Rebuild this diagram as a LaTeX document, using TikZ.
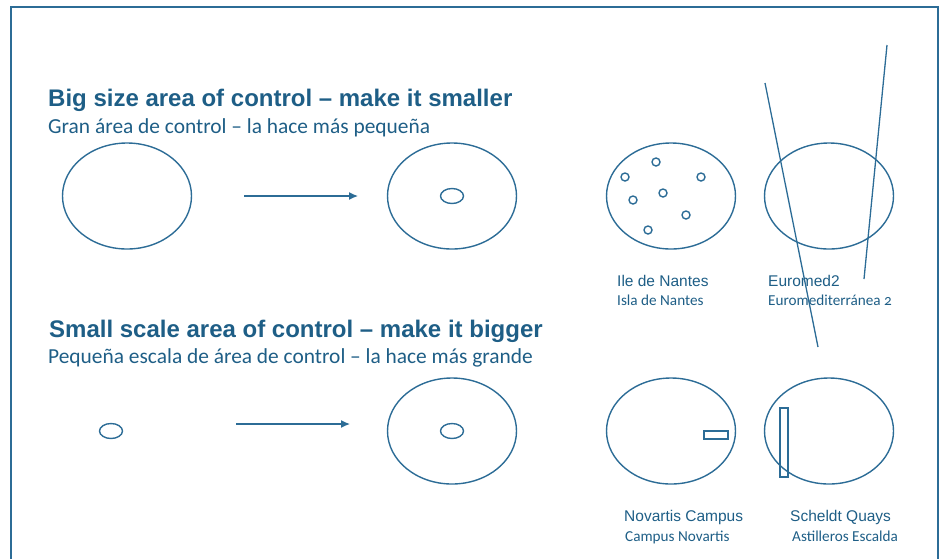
\documentclass[tikz,border=0pt]{standalone}
\usepackage{fontspec}
\setmainfont{Carlito}[Numbers=OldStyle]
\newfontfamily\headfont{Liberation Sans}
\usetikzlibrary{shapes.geometric,arrows.meta}
\definecolor{steel}{RGB}{30,94,134}
\definecolor{inkline}{RGB}{44,108,150}

\begin{document}
\begin{tikzpicture}[x=1pt,y=-1pt,
  area/.style={draw=inkline, ellipse, line width=1.4pt, minimum width=129pt, minimum height=106pt, inner sep=0pt},
  core/.style={draw=inkline, ellipse, line width=1.4pt, minimum width=23pt, minimum height=15pt, inner sep=0pt},
  spot/.style={draw=inkline, circle, line width=1.4pt, minimum size=8pt, inner sep=0pt},
  strip/.style={draw=inkline, rectangle, line width=1.3pt, inner sep=0pt},
  heading/.style={anchor=base west, text=steel, inner sep=0pt, font=\headfont\bfseries\fontsize{24}{28}\selectfont},
  subheading/.style={anchor=base west, text=steel, inner sep=0pt, font=\fontsize{21.4}{25}\selectfont},
  place/.style={anchor=base west, text=steel, inner sep=0pt, font=\headfont\fontsize{15.5}{18}\selectfont},
  subplace/.style={anchor=base west, text=steel, inner sep=0pt, font=\fontsize{15.2}{18}\selectfont},
  scalearrow/.style={draw=inkline, line width=1.3pt, -{Latex[length=9pt,width=8pt]}},
  cutline/.style={draw=inkline, line width=1.3pt}
]
\useasboundingbox (0,0) rectangle (944,558);
\draw[inkline, line width=2.2pt] (11,570) -- (11,7) -- (938,7) -- (938,570);

% headings
\node[heading] (h1) at (48,106) {Big size area of control – make it smaller};
\node[subheading] (s1) at (48,133) {Gran área de control – la hace más pequeña};
\node[heading] (h2) at (49,337) {Small scale area of control – make it bigger};
\node[subheading] (s2) at (48,363) {Pequeña escala de área de control – la hace más grande};

% top row
\node[area] (big) at (127,196) {};
\coordinate (g1a) at (244,196);
\coordinate (g1b) at (358,196);
\path[scalearrow] (g1a) -- (g1b);
\node[area] (small1) at (452,196) {};
\node[core] (c1) at (452,196) {};

\node[area] (nantes) at (671,196) {};
\node[spot] (n1) at (656,162) {};
\node[spot] (n2) at (625,177) {};
\node[spot] (n3) at (701,177) {};
\node[spot] (n4) at (663,193) {};
\node[spot] (n5) at (633,200) {};
\node[spot] (n6) at (686,215) {};
\node[spot] (n7) at (648,230) {};

\node[area] (euromed) at (829,196) {};
\coordinate (e1a) at (765,83);
\coordinate (e1b) at (818,347);
\coordinate (e2a) at (887,45);
\coordinate (e2b) at (864,279);
\path[cutline] (e1a) -- (e1b);
\path[cutline] (e2a) -- (e2b);

\node[place] (l1) at (617,286) {Ile de Nantes};
\node[subplace] (k1) at (617,305) {Isla de Nantes};
\node[place] (l2) at (768,286) {Euromed2};
\node[subplace] (k2) at (768,305) {Euromediterránea 2};

% bottom row
\node[core] (seed) at (111,431) {};
\coordinate (g2a) at (236,424);
\coordinate (g2b) at (350,424);
\path[scalearrow] (g2a) -- (g2b);
\node[area] (small2) at (452,431) {};
\node[core] (c2) at (452,431) {};

\node[area] (novartis) at (671,431) {};
\node[strip, minimum width=24pt, minimum height=8pt] (r1) at (716,435) {};
\node[area] (scheldt) at (829,431) {};
\node[strip, minimum width=8pt, minimum height=69pt] (r2) at (784,442.5) {};

\node[place] (l3) at (624,521) {Novartis Campus};
\node[subplace] (k3) at (625,541) {Campus Novartis};
\node[place] (l4) at (790,521) {Scheldt Quays};
\node[subplace] (k4) at (792,541) {Astilleros Escalda};
\end{tikzpicture}
\end{document}
